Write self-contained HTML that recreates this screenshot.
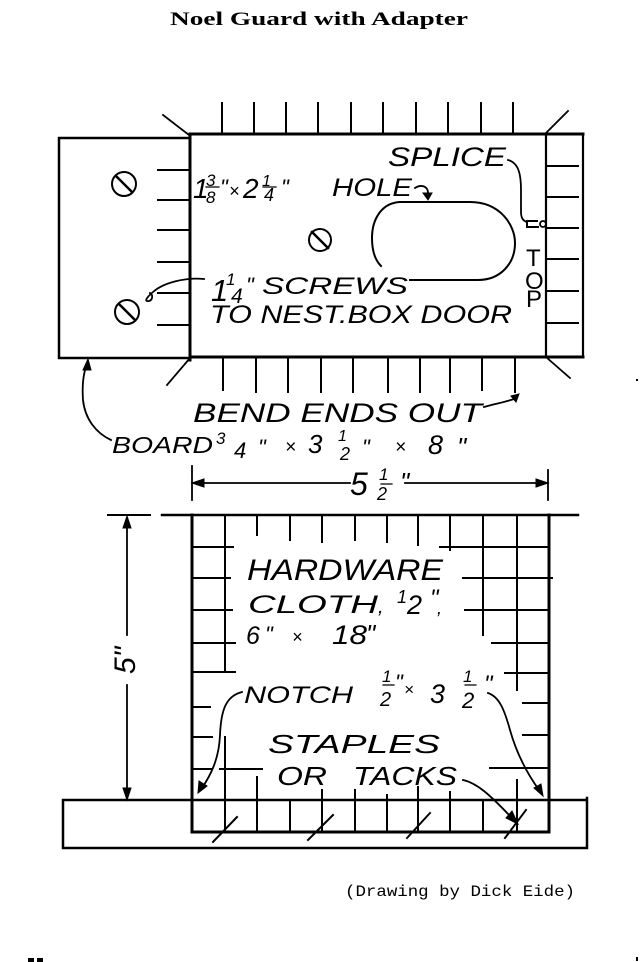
<!DOCTYPE html>
<html>
<head>
<meta charset="utf-8">
<style>
  html,body{margin:0;padding:0;background:#fff;}
  svg{display:block;}
  .h{font-family:"Liberation Sans",sans-serif;font-style:italic;fill:#000;}
</style>
</head>
<body>
<svg width="640" height="962" viewBox="0 0 640 962" xmlns="http://www.w3.org/2000/svg">
  <rect width="640" height="962" fill="#fff"/>

  <!-- Title -->
  <text x="170" y="25" font-family="'Liberation Serif',serif" font-weight="bold" font-size="19" textLength="298" lengthAdjust="spacingAndGlyphs">Noel Guard with Adapter</text>

  <g stroke="#000" fill="none" stroke-linecap="square">
    <!-- ===== TOP DRAWING ===== -->
    <path d="M59,138 L190,138 M59,138 L59,358 M59,358 L190,358" stroke-width="2.5"/>
    <path d="M190,134 L583,134 M190,134 L190,360 M190,357 L583,357" stroke-width="3"/>
    <path d="M546,134 L546,357 M583,134 L583,357" stroke-width="2.2"/>
    <path d="M163,115 L189,135 M546,133 L568,111 M546,357 L570,378 M190,358 L167,385" stroke-width="1.8"/>
    <path d="M222,103 L222,133 M254,103 L254,133 M286,103 L286,133 M318,103 L318,133 M351,103 L351,133 M383,103 L383,133 M416,103 L416,133 M448,103 L448,133 M481,103 L481,133 M513,103 L513,133" stroke-width="2"/>
    <path d="M223,357 L223,390 M256,357 L256,392 M288,357 L288,392 M321,357 L321,392 M353,357 L353,392 M388,357 L388,392 M420,357 L420,392 M450,357 L450,392 M482,357 L482,390 M515,357 L515,392" stroke-width="2"/>
    <path d="M158,170 L190,170 M158,200 L190,200 M158,230 L190,230 M158,262 L190,262 M158,293 L190,293 M158,325 L190,325" stroke-width="2"/>
    <path d="M546,166 L578,166 M546,197 L578,197 M546,228 L578,228 M546,259 L578,259 M546,291 L578,291 M546,323 L578,323" stroke-width="2"/>
    <circle cx="124" cy="184" r="12" stroke-width="2"/>
    <path d="M116,176 L132,192" stroke-width="2.5"/>
    <circle cx="320" cy="240" r="11" stroke-width="2"/>
    <path d="M312,232 L328,248" stroke-width="2.5"/>
    <circle cx="127" cy="312" r="12" stroke-width="2"/>
    <path d="M119,304 L135,320" stroke-width="2.5"/>
    <path d="M204,279 C185,277 163,283 153,292 C146,298 144,302 149,301 C153,300 153,294 150,293" stroke-width="1.8"/>
    <path d="M400,202 L470,202 C500,202 515,225 515,243 C515,264 500,280 478,280 L410,280" stroke-width="2"/>
    <path d="M400,202 C381,203 372,220 372,238 C372,252 376,261 381,266" stroke-width="2"/>
    <path d="M415,188 C421,184 428,186 428,193" stroke-width="1.8"/>
    <path d="M508,160 C519,163 521,175 521,190 L521,212 C521,218 523,221 527,222" stroke-width="1.8"/>
    <path d="M537,221 L527,221 L527,227 L538,227" stroke-width="2"/>
    <circle cx="543" cy="224" r="3" stroke-width="1.8"/>
    <path d="M484,407 C495,404 505,402 514,399" stroke-width="1.8"/>
    <path d="M111,440 C96,433 85,419 83,400 C82,386 83,374 87,364" stroke-width="1.8"/>
    <path d="M192,466 L192,500 M548,470 L548,500 M192,483 L350,483 M405,483 L548,483" stroke-width="1.8"/>

    <!-- ===== BOTTOM DRAWING ===== -->
    <path d="M162,515 L578,515" stroke-width="2.5"/>
    <path d="M192,515 L192,832 M549,515 L549,832 M192,832 L549,832" stroke-width="3"/>
    <path d="M63,800 L587,800 M63,800 L63,848 M63,848 L587,848 M587,798 L587,848" stroke-width="2.5"/>
    <path d="M225,515 L225,672 M225,737 L225,832
             M257,515 L257,535 M257,777 L257,832
             M290,515 L290,540 M290,800 L290,832
             M322,515 L322,542 M322,790 L322,832
             M355,515 L355,540 M355,790 L355,832
             M387,515 L387,542 M387,795 L387,832
             M418,515 L418,545 M418,787 L418,832
             M450,515 L450,550 M450,792 L450,832
             M483,515 L483,635 M483,800 L483,832
             M517,517 L517,690 M517,780 L517,832" stroke-width="2"/>
    <path d="M192,547 L233,547 M192,578 L230,578 M192,610 L232,610 M192,643 L235,643 M192,672 L235,672
             M192,707 L210,707 M192,737 L212,737 M192,769 L212,769 M220,769 L262,769
             M440,547 L549,547 M463,578 L552,578 M465,610 L549,610 M492,643 L549,643 M505,673 L549,673
             M523,703 L549,703 M523,735 L549,735 M490,768 L549,768" stroke-width="2"/>
    <path d="M213,842 L237,817 M308,840 L333,815 M407,838 L430,813 M505,838 L526,810" stroke-width="2"/>
    <path d="M108,515 L150,515" stroke-width="2"/>
    <path d="M127,518 L127,635 M127,685 L127,798" stroke-width="1.8"/>
    <path d="M242,692 C226,696 221,710 220,735 C219,760 210,776 202,788" stroke-width="1.8"/>
    <path d="M488,693 C500,697 505,712 510,730 C517,755 529,776 539,790" stroke-width="1.8"/>
    <path d="M463,780 C477,783 490,795 510,816" stroke-width="1.8"/>
    <!-- fraction bars -->
    <path d="M206,187 L219,187 M381,484 L392,484 M263,187 L276,187 M383,685 L394,685 M465,685 L476,685" stroke-width="1.2"/>
  </g>

  <!-- arrowheads -->
  <g fill="#000" stroke="#000" stroke-width="1">
    <polygon points="423,193 432,193 428,200"/>
    <polygon points="511,396 519,394 516,402"/>
    <polygon points="83,370 91,370 88,359"/>
    <polygon points="192,483 204,479 204,487"/>
    <polygon points="548,483 536,479 536,487"/>
    <polygon points="127,516 123,528 131,528"/>
    <polygon points="127,800 123,788 131,788"/>
    <polygon points="198,793 199,781 207,786"/>
    <polygon points="543,796 534,788 541,784"/>
    <polygon points="518,824 506,818 512,811"/>
  </g>

  <!-- ===== TOP TEXT ===== -->
  <g class="h">
    <text x="193" y="198" font-size="28">1</text>
    <text x="206" y="186" font-size="17">3</text>
    <text x="206" y="203" font-size="17">8</text>
    <text x="220" y="195" font-size="22">"</text>
    <text x="229" y="197" font-size="18">×</text>
    <text x="243" y="198" font-size="28">2</text>
    <text x="262" y="186" font-size="16">1</text>
    <text x="264" y="201" font-size="18">4</text>
    <text x="281" y="195" font-size="22">"</text>
    <text x="332" y="196" font-size="25" textLength="80" lengthAdjust="spacingAndGlyphs">HOLE</text>

    <text x="388" y="166" font-size="27" textLength="118" lengthAdjust="spacingAndGlyphs">SPLICE</text>

    <text x="211" y="301" font-size="31">1</text>
    <text x="226" y="285" font-size="17">1</text>
    <text x="231" y="303" font-size="21">4</text>
    <text x="246" y="293" font-size="22">"</text>
    <text x="262" y="294" font-size="24" textLength="146" lengthAdjust="spacingAndGlyphs">SCREWS</text>

    <text x="210" y="323" font-size="25" textLength="302" lengthAdjust="spacingAndGlyphs">TO NEST.BOX DOOR</text>

    <text x="526" y="266" font-size="24" font-style="normal">T</text>
    <text x="525" y="289" font-size="24" font-style="normal">O</text>
    <text x="526" y="307" font-size="24" font-style="normal">P</text>

    <text x="193" y="422" font-size="27" textLength="289" lengthAdjust="spacingAndGlyphs">BEND ENDS OUT</text>

    <text x="112" y="453" font-size="23" textLength="101" lengthAdjust="spacingAndGlyphs">BOARD</text>
    <text x="216" y="444" font-size="17">3</text>
    <text x="234" y="458" font-size="22">4</text>
    <text x="258" y="455" font-size="22">"</text>
    <text x="285" y="453" font-size="19">×</text>
    <text x="308" y="453" font-size="26">3</text>
    <text x="338" y="441" font-size="16">1</text>
    <text x="340" y="460" font-size="18">2</text>
    <text x="362" y="455" font-size="22">"</text>
    <text x="395" y="453" font-size="19">×</text>
    <text x="428" y="454" font-size="27">8</text>
    <text x="457" y="456" font-size="26">"</text>

    <text x="350" y="495" font-size="32">5</text>
    <text x="379" y="480" font-size="17">1</text>
    <text x="377" y="500" font-size="18">2</text>
    <text x="400" y="491" font-size="26">"</text>
  </g>

  <!-- ===== BOTTOM TEXT ===== -->
  <g class="h">
    <text x="247" y="580" font-size="30" textLength="196" lengthAdjust="spacingAndGlyphs">HARDWARE</text>

    <text x="248" y="613" font-size="25" textLength="130" lengthAdjust="spacingAndGlyphs">CLOTH</text>
    <text x="378" y="613" font-size="20">,</text>
    <text x="397" y="603" font-size="18">1</text>
    <text x="407" y="614" font-size="27">2</text>
    <text x="430" y="606" font-size="24">"</text>
    <text x="437" y="614" font-size="18">,</text>

    <text x="246" y="644" font-size="25">6</text>
    <text x="265" y="642" font-size="22">"</text>
    <text x="292" y="643" font-size="18">×</text>
    <text x="332" y="644" font-size="27" textLength="35" lengthAdjust="spacingAndGlyphs">18</text>
    <text x="366" y="643" font-size="26">"</text>

    <text x="244" y="703" font-size="24" textLength="109" lengthAdjust="spacingAndGlyphs">NOTCH</text>
    <text x="382" y="682" font-size="17">1</text>
    <text x="380" y="706" font-size="20">2</text>
    <text x="395" y="690" font-size="22">"</text>
    <text x="404" y="695" font-size="17">×</text>
    <text x="430" y="703" font-size="27">3</text>
    <text x="463" y="682" font-size="17">1</text>
    <text x="462" y="708" font-size="22">2</text>
    <text x="484" y="692" font-size="24">"</text>

    <text x="268" y="753" font-size="26" textLength="172" lengthAdjust="spacingAndGlyphs">STAPLES</text>
    <text x="277" y="785" font-size="26" textLength="50" lengthAdjust="spacingAndGlyphs">OR</text>
    <text x="353" y="785" font-size="26" textLength="104" lengthAdjust="spacingAndGlyphs">TACKS</text>

    <text x="101" y="672" font-size="30" transform="rotate(-90 119 656)">5"</text>
  </g>

  <!-- caption -->
  <text x="345" y="896" font-family="'Liberation Mono',monospace" font-size="16" textLength="230" lengthAdjust="spacingAndGlyphs">(Drawing by Dick Eide)</text>

  <!-- stray marks -->
  <rect x="636" y="379" width="2" height="2" fill="#000"/>
  <rect x="28" y="958" width="6" height="4" fill="#000"/>
  <rect x="37" y="958" width="6" height="4" fill="#000"/>
  <rect x="636" y="957" width="2" height="4" fill="#000"/>
</svg>
</body>
</html>
